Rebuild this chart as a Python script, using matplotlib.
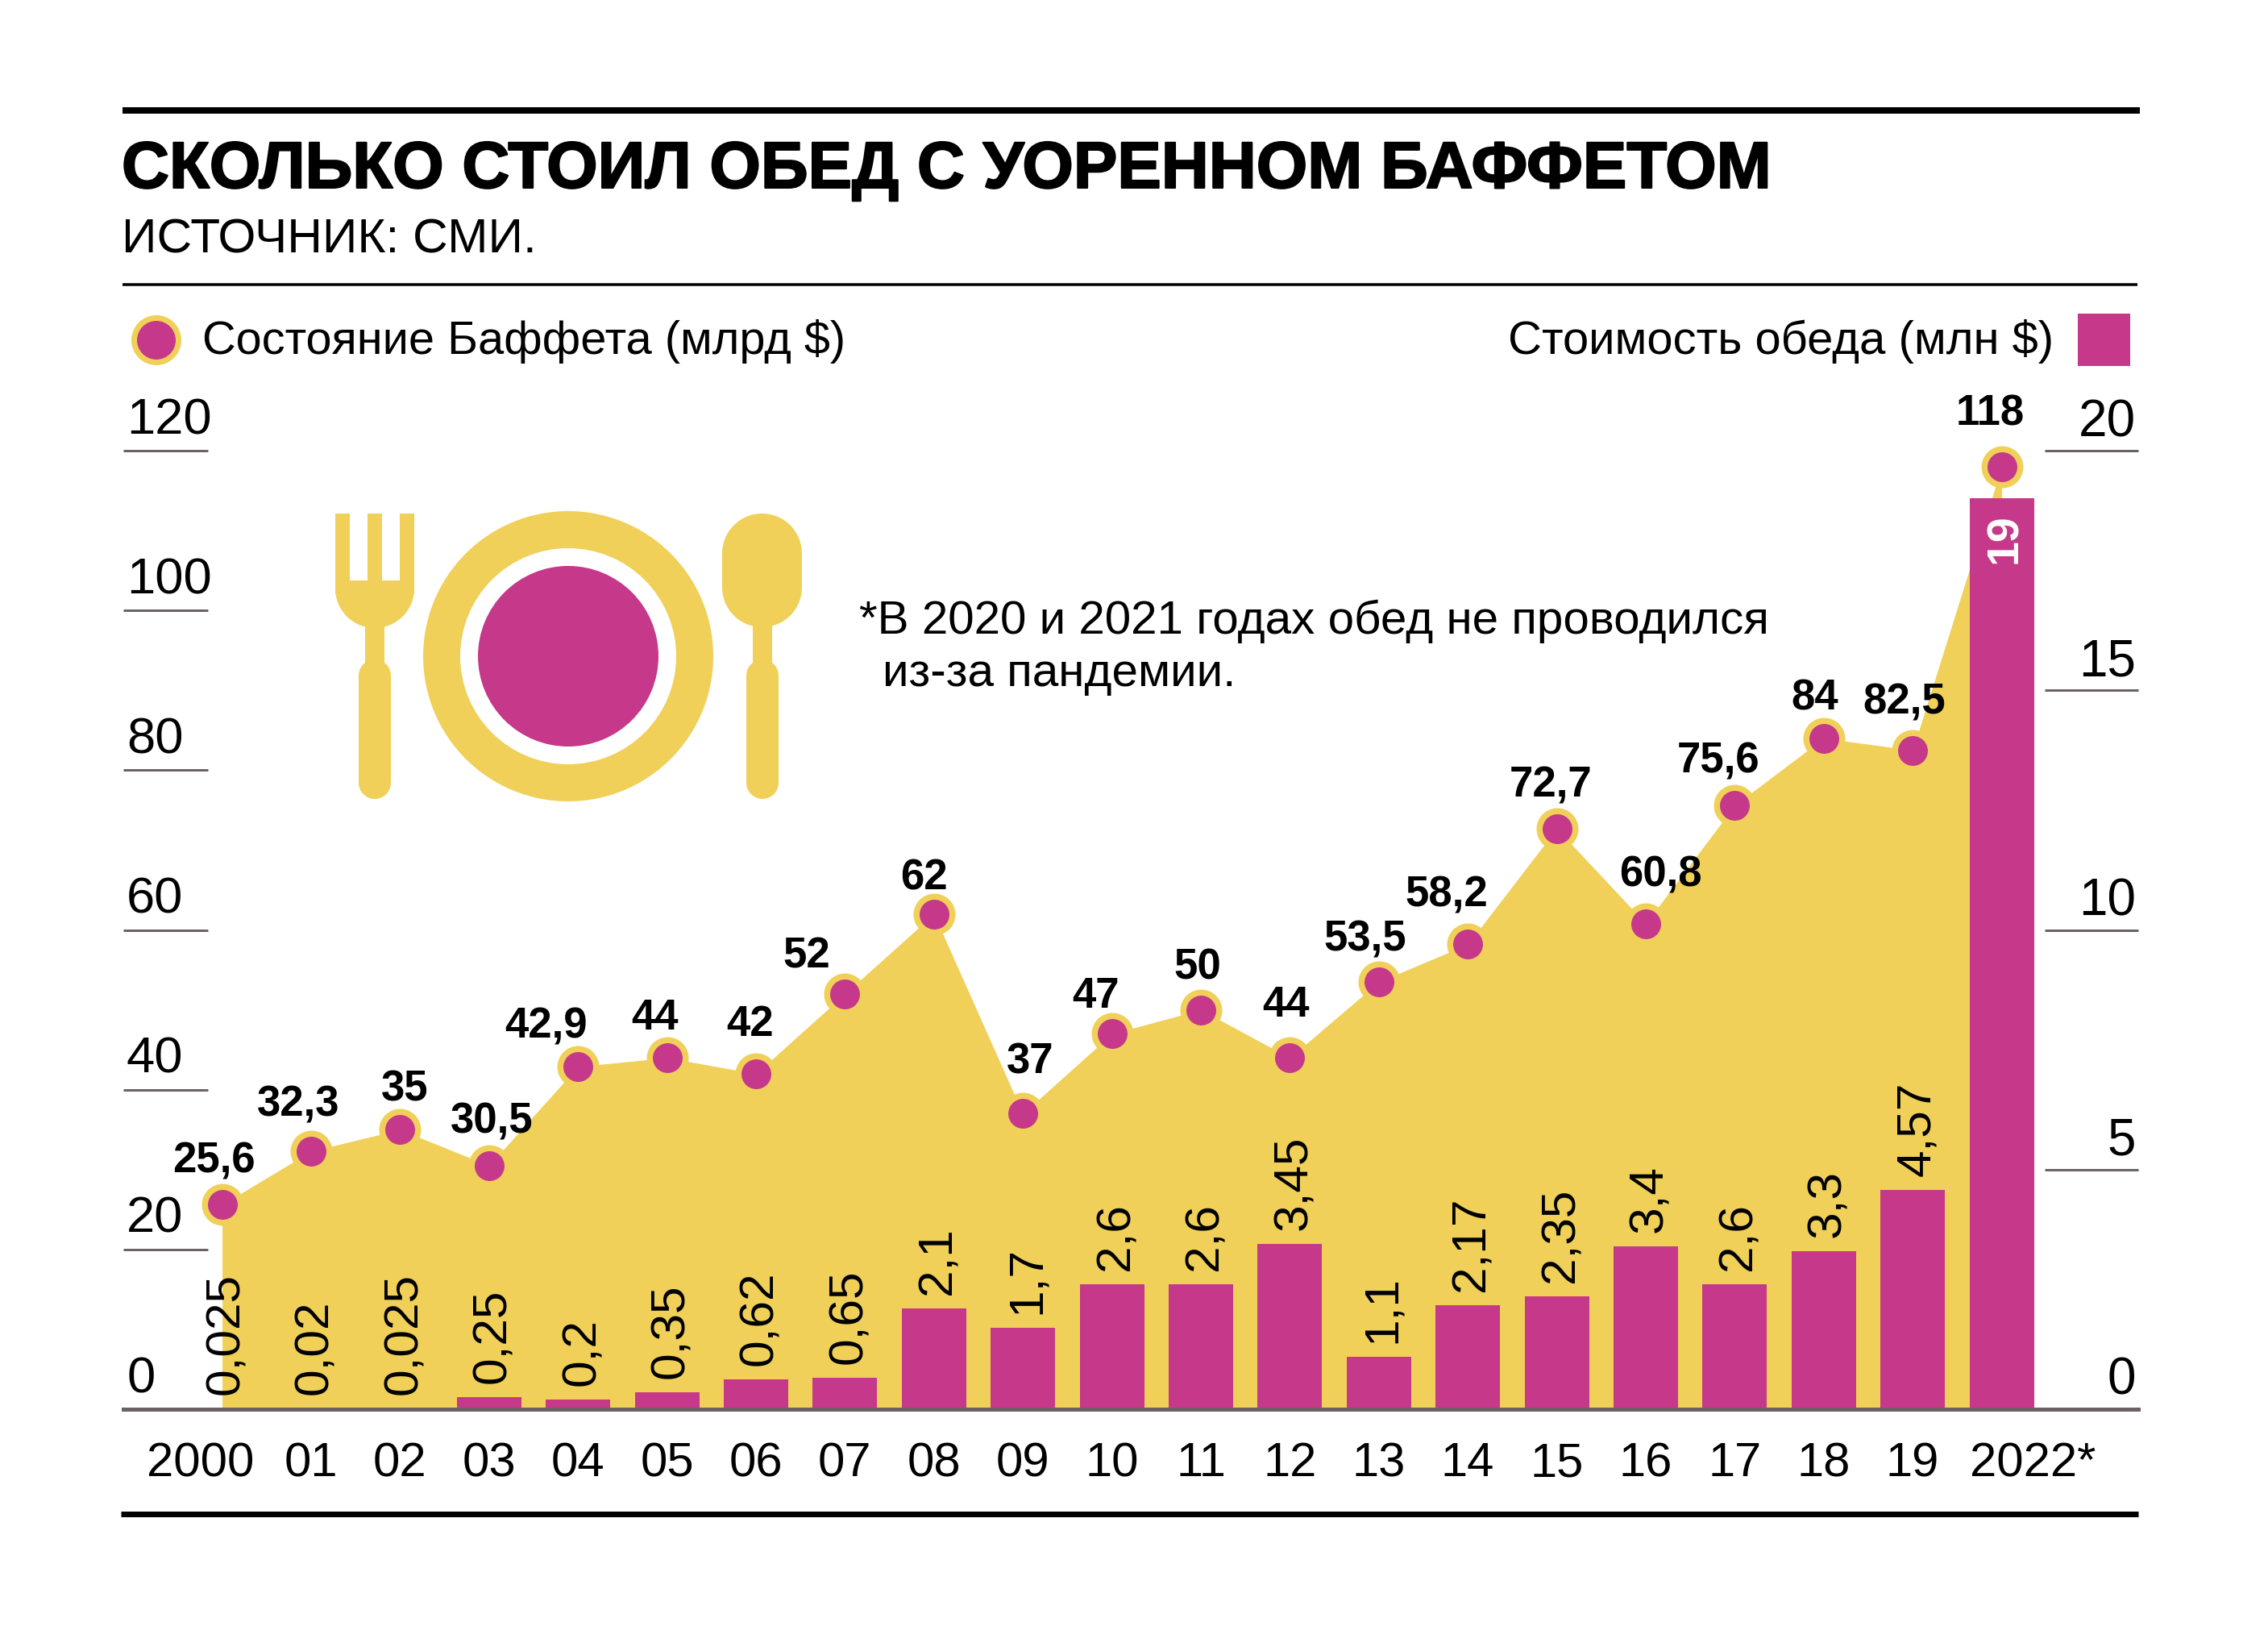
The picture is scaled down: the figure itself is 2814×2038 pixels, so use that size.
import matplotlib
matplotlib.use("Agg")
import matplotlib.pyplot as plt
import matplotlib.patches as mpatches
import matplotlib.patheffects as pe
from matplotlib.transforms import ScaledTranslation

# data
years = ["2000", "01", "02", "03", "04", "05", "06", "07", "08", "09", "10",
         "11", "12", "13", "14", "15", "16", "17", "18", "19", "2022*"]
wealth = [25.6, 32.3, 35, 30.5, 42.9, 44, 42, 52, 62, 37, 47,
          50, 44, 53.5, 58.2, 72.7, 60.8, 75.6, 84, 82.5, 118]
lunch_cost = [0.025, 0.02, 0.025, 0.25, 0.2, 0.35, 0.62, 0.65, 2.1, 1.7, 2.6,
              2.6, 3.45, 1.1, 2.17, 2.35, 3.4, 2.6, 3.3, 4.57, 19]
wealth_ticks = [0, 20, 40, 60, 80, 100, 120]
cost_ticks = [0, 5, 10, 15, 20]

# label nudges in pixels, from the marker position
wealth_dx = [-10, -16, 6, 3, -40, -15, -7, -48, -12, 9, -20,
             -4, -5, -17, -26, -7, 18, -20, -11, -10, -14]
wealth_dy = [54, 57, 50, 54, 49, 49, 61, 46, 44, 64, 46,
             52, 65, 52, 61, 53, 60, 54, 49, 59, 65]

YELLOW = "#F0D059"
MAGENTA = "#C6398A"
GREY = "#6B6363"
W, H = 2814, 2038
FONT = "Liberation Sans"
plt.rcParams["font.family"] = [FONT, "DejaVu Sans"]


def comma(v):
    return f"{v:g}".replace(".", ",")


def px(v):
    return v * 0.72


def rounded_bar(axes, left, right, top, bottom):
    # vertical bar with fully round ends
    r = (right - left) / 2
    axes.add_patch(mpatches.Rectangle((left, top + r), right - left, bottom - top - 2 * r,
                                      fc=YELLOW, ec="none"))
    axes.add_patch(mpatches.Circle((left + r, top + r), r, fc=YELLOW, ec="none"))
    axes.add_patch(mpatches.Circle((left + r, bottom - r), r, fc=YELLOW, ec="none"))


fig = plt.figure(figsize=(W / 100, H / 100), dpi=100, facecolor="white")

# page furniture in pixel coordinates
page = fig.add_axes([0, 0, 1, 1], zorder=0)
page.set_xlim(0, W)
page.set_ylim(H, 0)
page.axis("off")

page.plot([152, 2655], [137, 137], color="black", lw=px(8), solid_capstyle="butt")
page.plot([152, 2652], [353, 353], color="black", lw=px(3.5), solid_capstyle="butt")
page.plot([150, 2653], [1878, 1878], color="black", lw=px(7), solid_capstyle="butt")

title = page.text(151, 212, "СКОЛЬКО СТОИЛ ОБЕД С УОРЕННОМ БАФФЕТОМ", fontsize=58.8,
                  fontweight="bold", va="center", ha="left")
title.set_path_effects([pe.withStroke(linewidth=1.5, foreground="black")])
page.text(151, 298, "ИСТОЧНИК: СМИ.", fontsize=43.5, va="center", ha="left")
page.text(251, 423, "Состояние Баффета (млрд $)", fontsize=41.6, va="center", ha="left")
page.text(2548, 423, "Стоимость обеда (млн $)", fontsize=41.8, va="center", ha="right")
page.text(1066, 771, "*В 2020 и 2021 годах обед не проводился", fontsize=42,
          va="center", ha="left")
page.text(1095, 836, "из-за пандемии.", fontsize=42, va="center", ha="left")

# legend keys
page.add_patch(mpatches.Circle((194, 422), 27.5, fc=MAGENTA, ec=YELLOW, lw=px(7)))
page.add_patch(mpatches.Rectangle((2578, 389), 65, 65, fc=MAGENTA, ec="none"))

# plate
page.add_patch(mpatches.Circle((705, 814), 180, fc=YELLOW, ec="none"))
page.add_patch(mpatches.Circle((705, 814), 134, fc="white", ec="none"))
page.add_patch(mpatches.Circle((705, 814), 112, fc=MAGENTA, ec="none"))

# fork
for left in [416, 456, 496]:
    page.add_patch(mpatches.Rectangle((left, 637), 18, 100, fc=YELLOW, ec="none"))
page.add_patch(mpatches.Rectangle((416, 720), 98, 12, fc=YELLOW, ec="none"))
page.add_patch(mpatches.Wedge((465, 730), 49, 0, 180, fc=YELLOW, ec="none"))
page.add_patch(mpatches.Rectangle((453, 770), 24, 60, fc=YELLOW, ec="none"))
rounded_bar(page, 445, 485, 818, 991)

# spoon
rounded_bar(page, 896, 995, 637, 778)
page.add_patch(mpatches.Rectangle((934, 770), 24, 60, fc=YELLOW, ec="none"))
rounded_bar(page, 926, 966, 818, 991)

# chart axes: area below, bars next, markers on top
x = list(range(len(years)))
ax_left, ax_right, ax_top, ax_bottom = 153, 2653, 559, 1748
rect = [ax_left / W, (H - ax_bottom) / H, (ax_right - ax_left) / W, (ax_bottom - ax_top) / H]

ax = fig.add_axes(rect, zorder=1)
ax.patch.set_visible(False)
ax.set_xlim(-1.11, 21.535)
ax.set_ylim(0, 120)
ax.fill_between(x, wealth, 0, color=YELLOW, lw=0)
for s in ax.spines.values():
    s.set_visible(False)

ax_cost = ax.twinx()
ax_cost.set_zorder(2)
ax_cost.set_ylim(0, 20)
ax_cost.bar(x, lunch_cost, width=0.725, color=MAGENTA, lw=0)
for s in ax_cost.spines.values():
    s.set_visible(False)

ax_pts = ax.twinx()
ax_pts.set_zorder(3)
ax_pts.set_ylim(0, 120)
ax_pts.yaxis.set_visible(False)
for name, s in ax_pts.spines.items():
    s.set_visible(name == "bottom")
ax_pts.spines["bottom"].set_linewidth(px(5))
ax_pts.spines["bottom"].set_color(GREY)
ax_pts.plot(x, wealth, ls="none", marker="o", ms=px(44.5), mew=px(7.5),
            mfc=MAGENTA, mec=YELLOW, clip_on=False)

# axis ticks and labels
ax.set_xticks(x, years)
ax.set_yticks(wealth_ticks, [str(t) for t in wealth_ticks])
ax.tick_params(axis="x", length=0, labelsize=43, pad=29)
ax.tick_params(axis="y", direction="in", length=px(105), width=px(3), color=GREY,
               labelsize=45.5, pad=-px(4))
ax_cost.set_yticks(cost_ticks, [str(t) for t in cost_ticks])
ax_cost.tick_params(axis="y", direction="in", length=px(116), width=px(3), color=GREY,
                    labelsize=46, pad=-px(3))

lift = ScaledTranslation(0, 8 / 100, fig.dpi_scale_trans)
for lab in ax.get_yticklabels():
    lab.set_ha("left")
    lab.set_va("bottom")
    lab.set_transform(lab.get_transform() + lift)
for lab in ax_cost.get_yticklabels():
    lab.set_ha("right")
    lab.set_va("bottom")
    lab.set_transform(lab.get_transform() + ScaledTranslation(0, 5 / 100, fig.dpi_scale_trans))

xlabels = ax.get_xticklabels()
xlabels[0].set_ha("right")
xlabels[0].set_transform(xlabels[0].get_transform() + ScaledTranslation(40 / 100, 0, fig.dpi_scale_trans))
xlabels[-1].set_ha("left")
xlabels[-1].set_transform(xlabels[-1].get_transform() + ScaledTranslation(-40 / 100, 0, fig.dpi_scale_trans))

# value labels
for i, v in enumerate(wealth):
    ax_pts.annotate(comma(v), (i, v), xytext=(wealth_dx[i], wealth_dy[i]),
                    textcoords="offset pixels", ha="center", va="center",
                    fontsize=38, fontweight="bold", color="black")

for i, v in enumerate(lunch_cost[:-1]):
    ax_pts.annotate(comma(v), (i, v * 6), xytext=(5, 17), textcoords="offset pixels",
                    ha="center", va="bottom", rotation=90, fontsize=43.5, color="black")

ax_pts.annotate(comma(lunch_cost[-1]), (x[-1], lunch_cost[-1] * 6), xytext=(4, -19),
                textcoords="offset pixels", ha="center", va="top", rotation=90,
                fontsize=40, fontweight="bold", color="white")

fig.savefig("out.png", dpi=100)
